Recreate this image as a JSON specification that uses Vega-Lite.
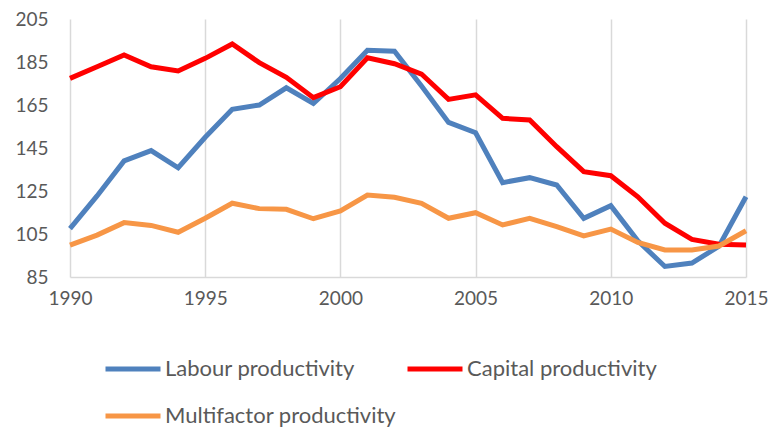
{
  "$schema": "https://vega.github.io/schema/vega-lite/v6.json",
  "width": 676,
  "height": 258,
  "autosize": "none",
  "padding": {"left": 70, "top": 19, "right": 25, "bottom": 151},
  "background": "white",
  "config": {"view": {"stroke": null}, "font": "Lato"},
  "data": {"values": [
    {"year": 1990, "series": "Labour productivity", "value": 107.5},
    {"year": 1991, "series": "Labour productivity", "value": 122.7},
    {"year": 1992, "series": "Labour productivity", "value": 139},
    {"year": 1993, "series": "Labour productivity", "value": 143.8},
    {"year": 1994, "series": "Labour productivity", "value": 135.8},
    {"year": 1995, "series": "Labour productivity", "value": 150},
    {"year": 1996, "series": "Labour productivity", "value": 163},
    {"year": 1997, "series": "Labour productivity", "value": 165},
    {"year": 1998, "series": "Labour productivity", "value": 173},
    {"year": 1999, "series": "Labour productivity", "value": 165.7},
    {"year": 2000, "series": "Labour productivity", "value": 177.3},
    {"year": 2001, "series": "Labour productivity", "value": 190.5},
    {"year": 2002, "series": "Labour productivity", "value": 190},
    {"year": 2003, "series": "Labour productivity", "value": 173.8},
    {"year": 2004, "series": "Labour productivity", "value": 156.9},
    {"year": 2005, "series": "Labour productivity", "value": 152.1},
    {"year": 2006, "series": "Labour productivity", "value": 128.9},
    {"year": 2007, "series": "Labour productivity", "value": 131.2},
    {"year": 2008, "series": "Labour productivity", "value": 127.8},
    {"year": 2009, "series": "Labour productivity", "value": 112.3},
    {"year": 2010, "series": "Labour productivity", "value": 118.2},
    {"year": 2011, "series": "Labour productivity", "value": 101.8},
    {"year": 2012, "series": "Labour productivity", "value": 89.9},
    {"year": 2013, "series": "Labour productivity", "value": 91.5},
    {"year": 2014, "series": "Labour productivity", "value": 99.3},
    {"year": 2015, "series": "Labour productivity", "value": 122.3},
    {"year": 1990, "series": "Capital productivity", "value": 177.4},
    {"year": 1991, "series": "Capital productivity", "value": 182.8},
    {"year": 1992, "series": "Capital productivity", "value": 188.3},
    {"year": 1993, "series": "Capital productivity", "value": 182.8},
    {"year": 1994, "series": "Capital productivity", "value": 180.8},
    {"year": 1995, "series": "Capital productivity", "value": 186.7},
    {"year": 1996, "series": "Capital productivity", "value": 193.4},
    {"year": 1997, "series": "Capital productivity", "value": 184.7},
    {"year": 1998, "series": "Capital productivity", "value": 177.9},
    {"year": 1999, "series": "Capital productivity", "value": 168.4},
    {"year": 2000, "series": "Capital productivity", "value": 173.5},
    {"year": 2001, "series": "Capital productivity", "value": 187},
    {"year": 2002, "series": "Capital productivity", "value": 184.2},
    {"year": 2003, "series": "Capital productivity", "value": 179.4},
    {"year": 2004, "series": "Capital productivity", "value": 167.6},
    {"year": 2005, "series": "Capital productivity", "value": 169.7},
    {"year": 2006, "series": "Capital productivity", "value": 158.8},
    {"year": 2007, "series": "Capital productivity", "value": 158},
    {"year": 2008, "series": "Capital productivity", "value": 145.6},
    {"year": 2009, "series": "Capital productivity", "value": 134},
    {"year": 2010, "series": "Capital productivity", "value": 132.1},
    {"year": 2011, "series": "Capital productivity", "value": 122.3},
    {"year": 2012, "series": "Capital productivity", "value": 110},
    {"year": 2013, "series": "Capital productivity", "value": 102.5},
    {"year": 2014, "series": "Capital productivity", "value": 100.2},
    {"year": 2015, "series": "Capital productivity", "value": 99.9},
    {"year": 1990, "series": "Multifactor productivity", "value": 99.8},
    {"year": 1991, "series": "Multifactor productivity", "value": 104.5},
    {"year": 1992, "series": "Multifactor productivity", "value": 110.3},
    {"year": 1993, "series": "Multifactor productivity", "value": 109},
    {"year": 1994, "series": "Multifactor productivity", "value": 105.8},
    {"year": 1995, "series": "Multifactor productivity", "value": 112.3},
    {"year": 1996, "series": "Multifactor productivity", "value": 119.3},
    {"year": 1997, "series": "Multifactor productivity", "value": 116.8},
    {"year": 1998, "series": "Multifactor productivity", "value": 116.5},
    {"year": 1999, "series": "Multifactor productivity", "value": 112.1},
    {"year": 2000, "series": "Multifactor productivity", "value": 115.7},
    {"year": 2001, "series": "Multifactor productivity", "value": 123.1},
    {"year": 2002, "series": "Multifactor productivity", "value": 122.1},
    {"year": 2003, "series": "Multifactor productivity", "value": 119.3},
    {"year": 2004, "series": "Multifactor productivity", "value": 112.3},
    {"year": 2005, "series": "Multifactor productivity", "value": 114.9},
    {"year": 2006, "series": "Multifactor productivity", "value": 109.2},
    {"year": 2007, "series": "Multifactor productivity", "value": 112.3},
    {"year": 2008, "series": "Multifactor productivity", "value": 108.4},
    {"year": 2009, "series": "Multifactor productivity", "value": 104.1},
    {"year": 2010, "series": "Multifactor productivity", "value": 107.3},
    {"year": 2011, "series": "Multifactor productivity", "value": 101.1},
    {"year": 2012, "series": "Multifactor productivity", "value": 97.6},
    {"year": 2013, "series": "Multifactor productivity", "value": 97.6},
    {"year": 2014, "series": "Multifactor productivity", "value": 99.4},
    {"year": 2015, "series": "Multifactor productivity", "value": 106.5}
  ]},
  "mark": {"type": "line", "strokeWidth": 5, "strokeJoin": "miter", "strokeCap": "butt"},
  "encoding": {
    "x": {
      "field": "year", "type": "quantitative",
      "scale": {"domain": [1990, 2015], "nice": false, "zero": false},
      "axis": {
        "title": null, "values": [1990, 1995, 2000, 2005, 2010, 2015], "format": "d",
        "grid": true, "gridColor": "#d9d9d9", "gridWidth": 1.5,
        "domain": true, "domainColor": "#d9d9d9", "domainWidth": 1.5,
        "ticks": false, "labelPadding": 12,
        "labelFontSize": 19, "labelColor": "#595959", "labelFont": "Lato",
        "labelFlush": false
      }
    },
    "y": {
      "field": "value", "type": "quantitative",
      "scale": {"domain": [85, 205], "nice": false, "zero": false},
      "axis": {
        "title": null, "values": [85, 105, 125, 145, 165, 185, 205],
        "grid": false, "domain": false, "ticks": false, "labelPadding": 22,
        "labelFontSize": 19, "labelColor": "#595959", "labelFont": "Lato"
      }
    },
    "color": {
      "field": "series", "type": "nominal",
      "scale": {
        "domain": ["Labour productivity", "Capital productivity", "Multifactor productivity"],
        "range": ["#4f81bd", "#ff0000", "#f79646"]
      },
      "legend": {
        "title": null, "orient": "none", "legendX": 33, "legendY": 320,
        "columns": 2, "direction": "horizontal",
        "symbolType": "stroke", "symbolSize": 3025, "symbolStrokeWidth": 5,
        "labelFontSize": 22, "labelColor": "#595959", "labelFont": "Lato",
        "labelOffset": 2, "columnPadding": 0, "rowPadding": 6, "labelLimit": 400
      }
    }
  }
}
